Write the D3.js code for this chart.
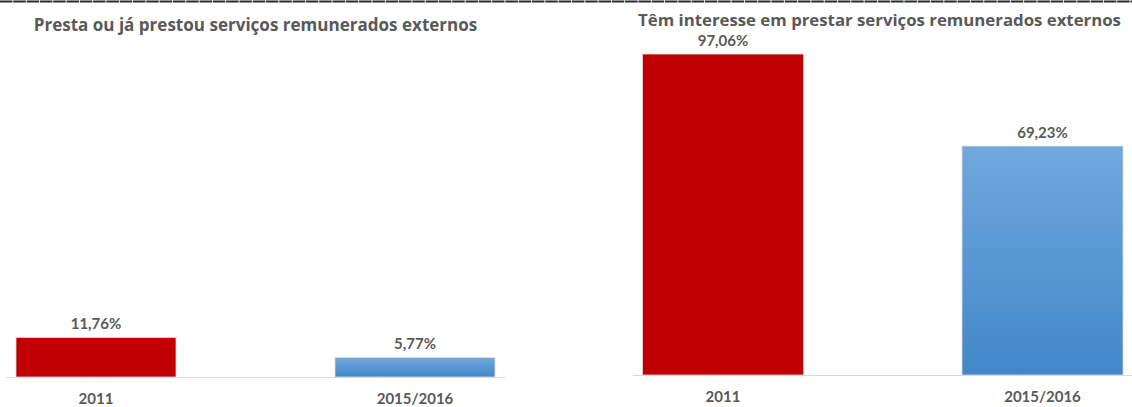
<!DOCTYPE html>
<html>
<head>
<meta charset="utf-8">
<script src="https://cdn.jsdelivr.net/npm/d3@7"></script>
<style>
html,body{margin:0;padding:0;background:#fff;}
svg{display:block;}
text{font-family:Lato,"Open Sans",sans-serif;font-weight:700;fill:#595959;}
text.title{font-family:"Open Sans",Lato,sans-serif;}
</style>
</head>
<body>
<svg id="chart" width="1132" height="407"></svg>
<script>
const categories = ["2011", "2015/2016"];
const leftValues = [11.76, 5.77];
const rightValues = [97.06, 69.23];
const leftTitle = "Presta ou já prestou serviços remunerados externos";
const rightTitle = "Têm interesse em prestar serviços remunerados externos";
const valueLabel = v => v.toFixed(2).replace(".", ",") + "%";

const svg = d3.select("#chart");
const defs = svg.append("defs");
const grad = defs.append("linearGradient").attr("id", "blueGrad")
  .attr("x1", 0).attr("y1", 0).attr("x2", 0).attr("y2", 1);
grad.append("stop").attr("offset", "0%").attr("stop-color", "#70A8DE");
grad.append("stop").attr("offset", "100%").attr("stop-color", "#4187C9");
const fills = ["#C00000", "url(#blueGrad)"];

// top rule
svg.append("line").attr("x1", 0).attr("x2", 1132).attr("y1", 1.5).attr("y2", 1.5)
  .attr("stroke", "#2b2b2b").attr("stroke-width", 2).attr("stroke-dasharray", "12.5,0.8");

const panels = [
  { title: leftTitle, values: leftValues, titleX: 255.5, titleY: 31, titleW: 444,
    range: [-63.5, 574.5], pad: 159 / 319, base: 377, pxPer100: 336,
    axis: [6, 505], catY: 404 },
  { title: rightTitle, values: rightValues, titleX: 879.5, titleY: 26, titleW: 483,
    range: [563.25, 1202.25], pad: 158.5 / 319.5, base: 375, pxPer100: 330.7,
    axis: [633, 1132], catY: 402 }
];

panels.forEach(p => {
  const g = svg.append("g");
  const x = d3.scaleBand().domain(categories).range(p.range)
    .paddingInner(p.pad).paddingOuter(p.pad / 2);
  const y = d3.scaleLinear().domain([0, 100]).range([p.base, p.base - p.pxPer100]);

  const t = g.append("text").attr("class", "title").attr("x", p.titleX).attr("y", p.titleY)
    .attr("text-anchor", "middle").style("font-size", "16px").text(p.title);
  const w = t.node().getComputedTextLength();
  if (w > 0) t.style("font-size", (16 * p.titleW / w).toFixed(2) + "px");

  g.selectAll("rect.bar").data(p.values).join("rect").attr("class", "bar")
    .attr("x", (d, i) => x(categories[i]))
    .attr("width", x.bandwidth())
    .attr("y", d => y(d))
    .attr("height", d => y(0) - y(d))
    .attr("fill", (d, i) => fills[i])
    .attr("stroke", "#dcdcdc").attr("stroke-width", 0.8);

  g.append("line").attr("x1", p.axis[0]).attr("x2", p.axis[1])
    .attr("y1", p.base + 0.5).attr("y2", p.base + 0.5)
    .attr("stroke", "#d9d9d9").attr("stroke-width", 1);

  g.selectAll("text.val").data(p.values).join("text").attr("class", "val")
    .attr("x", (d, i) => x(categories[i]) + x.bandwidth() / 2)
    .attr("y", d => y(d) - 8.5)
    .attr("text-anchor", "middle").style("font-size", "15px")
    .text(d => valueLabel(d));

  g.selectAll("text.cat").data(categories).join("text").attr("class", "cat")
    .attr("x", d => x(d) + x.bandwidth() / 2)
    .attr("y", p.catY)
    .attr("text-anchor", "middle").style("font-size", "15px")
    .text(d => d);
});
</script>
</body>
</html>
